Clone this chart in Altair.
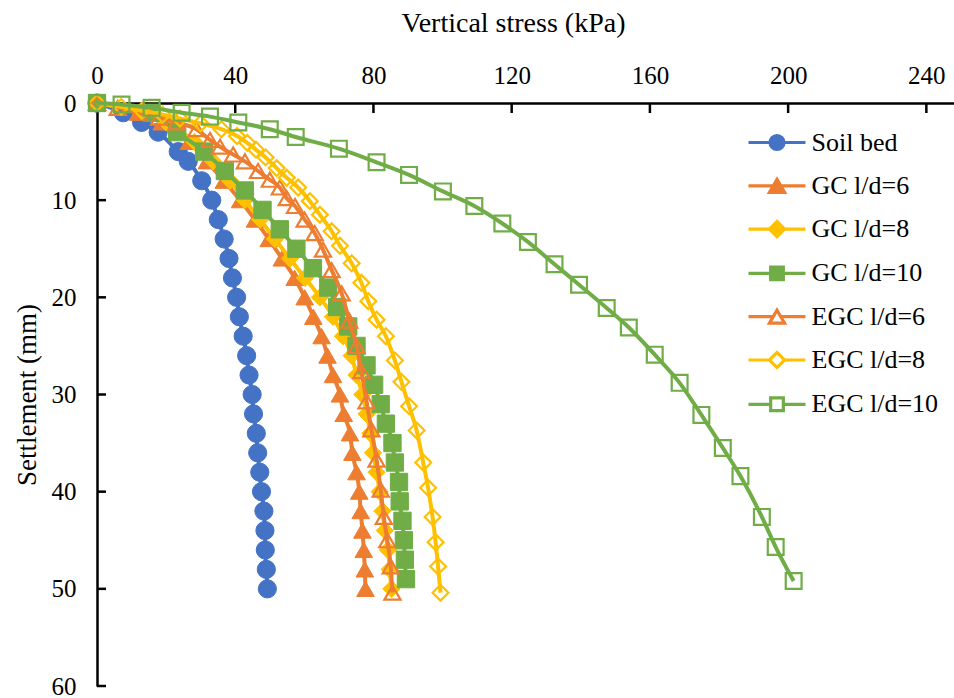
import altair as alt
import pandas as pd

# ---------------- data ----------------
series_names = ["Soil bed", "GC l/d=6", "GC l/d=8", "GC l/d=10",
                "EGC l/d=6", "EGC l/d=8", "EGC l/d=10"]

soil_mm = [0, 1, 2, 3, 5, 6, 8, 10, 12, 14, 16, 18, 20, 22, 24, 26, 28, 30,
           32, 34, 36, 38, 40, 42, 44, 46, 48, 50]
soil_kpa = [0, 7.6, 12.9, 17.7, 23.5, 26.4, 30.3, 33.2, 35.1, 36.8, 38.2, 39.2,
            40.4, 41.2, 42.3, 43.3, 44.0, 44.9, 45.3, 46.1, 46.5, 47.1, 47.6,
            48.3, 48.6, 48.7, 49.0, 49.3]

gc6_mm = [0, 1, 2, 4, 6, 8, 10, 12, 14, 16, 18, 20, 22, 24, 26, 28, 30, 32, 34,
          36, 38, 40, 42, 44, 46, 48, 50]
gc6_kpa = [0, 12.4, 18.7, 26.6, 31.8, 36.7, 41.4, 45.7, 49.7, 53.5, 57.2, 60.1,
           62.6, 65.0, 66.7, 68.3, 70.3, 71.4, 73.2, 73.9, 75.1, 75.9, 76.3,
           76.8, 77.2, 77.5, 77.7]

gc8_mm = [0, 1, 2, 4, 6, 8, 10, 12, 14, 16, 18, 20, 22, 24, 26, 28, 30, 32, 34,
          36, 38, 40, 42, 44, 46, 48, 50]
gc8_kpa = [0, 13.5, 20.0, 28.2, 33.6, 38.5, 42.8, 47.2, 51.5, 55.8, 60.2, 64.5,
           68.3, 71.2, 73.7, 75.1, 76.8, 78.0, 79.1, 79.9, 80.9, 81.8, 82.6,
           83.3, 84.2, 84.7, 85.2]

gc10_mm = [0, 1, 3, 5, 7, 9, 11, 13, 15, 17, 19, 21, 23, 25, 27, 29, 31, 33,
           35, 37, 39, 41, 43, 45, 47, 49]
gc10_kpa = [0, 15.8, 23.2, 31.0, 37.0, 42.8, 47.9, 52.9, 57.7, 62.5, 66.9, 69.5,
            72.7, 75.1, 78.0, 80.2, 82.1, 83.6, 85.5, 86.2, 87.4, 87.6, 88.4,
            88.8, 89.1, 89.4]

egc6_mm = [0, 0.5, 1.0, 1.5, 2.0, 2.7, 3.8, 4.5, 5.3, 6.0, 7.0, 7.9, 8.7, 9.8,
           10.6, 12.0, 13.4, 15.1, 17.2, 19.6, 22.4, 25.0, 27.6, 30.7, 33.6,
           36.7, 39.8, 42.6, 45.0, 47.7, 50.4]
egc6_kpa = [0, 6, 12, 18, 23, 28.8, 32.7, 35.6, 39.4, 42.8, 46.6, 50.0, 52.9,
            54.9, 57.3, 60.1, 63.0, 65.4, 67.9, 70.8, 73.0, 75.1, 76.5, 78.0,
            79.4, 80.9, 82.1, 83.0, 84.0, 85.0, 85.5]

egc8_mm = [0, 0.4, 0.8, 1.2, 1.6, 2.1, 2.7, 3.4, 4.1, 4.8, 5.6, 6.7, 7.7, 8.7,
           10.1, 11.5, 13.2, 14.7, 16.5, 18.5, 20.4, 22.3, 24.0, 26.5, 28.7,
           31.2, 33.7, 37.0, 39.6, 42.6, 45.2, 47.7, 50.4]
egc8_kpa = [0, 7, 13, 19, 24, 30, 36, 40.5, 43.5, 46, 48.8, 52, 54.9, 58.2, 61.6,
            64.5, 67.9, 70.3, 73.7, 76.5, 78.5, 80.9, 83.6, 86.2, 88.1, 90.3,
            92.5, 94.4, 95.8, 97.1, 98.0, 98.7, 99.4]

egc10_mm = [0, 0.15, 0.5, 1.0, 1.4, 2.0, 2.7, 3.5, 4.7, 6.1, 7.4, 9.1, 10.6,
            12.4, 14.3, 16.6, 18.7, 21.1, 23.1, 25.9, 28.8, 32.1, 35.5, 38.4,
            42.6, 45.7, 49.2]
egc10_kpa = [0, 7.1, 15.8, 24.5, 32.7, 40.9, 50.0, 57.5, 70.0, 80.9, 90.3,
             100.1, 109.2, 117.3, 124.7, 132.4, 139.5, 147.5, 153.9, 161.4,
             168.6, 174.9, 181.1, 186.2, 192.4, 196.4, 201.6]

x_ticks = [0, 40, 80, 120, 160, 200, 240]
y_ticks = [0, 10, 20, 30, 40, 50, 60]

all_mm = [soil_mm, gc6_mm, gc8_mm, gc10_mm, egc6_mm, egc8_mm, egc10_mm]
all_kpa = [soil_kpa, gc6_kpa, gc8_kpa, gc10_kpa, egc6_kpa, egc8_kpa, egc10_kpa]

# ---------------- styles ----------------
BLUE, ORANGE, YELLOW, GREEN = "#4472C4", "#ED7D31", "#FFC000", "#70AD47"
colors = [BLUE, ORANGE, YELLOW, GREEN, ORANGE, YELLOW, GREEN]
shapes = ["circle", "triangle-up", "diamond", "square",
          "triangle-up", "diamond", "square"]
filled = [True, True, True, True, False, False, False]
sizes = [330, 310, 300, 300, 260, 250, 250]
FONT = "Liberation Serif"

# legend symbol paths: a line with a marker in the middle (units of 13.5 px)
L = 2.111


def circle_path(r):
    k = 0.5523 * r
    return (f"M{-L},0H{-r} M{r},0H{L} "
            f"M{r},0 C{r},{k} {k},{r} 0,{r} C{-k},{r} {-r},{k} {-r},0 "
            f"C{-r},{-k} {-k},{-r} 0,{-r} C{k},{-r} {r},{-k} {r},0 Z")


def tri_path(a, h):
    e = a * 0.5
    return (f"M{-L},0H{-e} M{e},0H{L} "
            f"M0,{-h} L{a},{h} L{-a},{h} Z")


def dia_path(a):
    return (f"M{-L},0H{-a} M{a},0H{L} "
            f"M{-a},0 L0,{-a} L{a},0 L0,{a} Z")


def sq_path(a):
    return (f"M{-L},0H{-a} M{a},0H{L} "
            f"M{-a},{-a} H{a} V{a} H{-a} Z")


legend_paths = [circle_path(0.52), tri_path(0.56, 0.48), dia_path(0.56),
                sq_path(0.47), tri_path(0.56, 0.48), dia_path(0.56), sq_path(0.47)]
legend_fills = [c if f else "transparent" for c, f in zip(colors, filled)]

# ---------------- scales & axes ----------------
xs = alt.Scale(domain=[0, 248], nice=False, zero=False)
ys = alt.Scale(domain=[0, 60], reverse=True, nice=False, zero=False)

xaxis = alt.Axis(orient="top", values=x_ticks, ticks=False, tickSize=0,
                 grid=False, domainColor="black", domainWidth=2.5,
                 labelFont=FONT, labelFontSize=25, labelColor="black",
                 labelPadding=15, labelFlush=False, labelOverlap=False,
                 title="Vertical stress (kPa)", titleFont=FONT,
                 titleFontSize=28, titleFontWeight="normal",
                 titleColor="black", titleX=416, titleY=-72,
                 titleAlign="center", titleBaseline="alphabetic")
yaxis = alt.Axis(orient="left", values=y_ticks, ticks=False, tickSize=0,
                 grid=False, domainColor="black", domainWidth=2.5,
                 labelFont=FONT, labelFontSize=25, labelColor="black",
                 labelPadding=21, labelFlush=False, labelOverlap=False,
                 title="Settlement (mm)", titleFont=FONT, titleFontSize=27,
                 titleFontWeight="normal", titleColor="black",
                 titleX=-70, titleY=291.5, titleAngle=270,
                 titleAlign="center", titleBaseline="middle")

layers = []

# inward tick marks
xt = pd.DataFrame({"v": x_ticks})
yt = pd.DataFrame({"v": y_ticks})
layers.append(alt.Chart(xt).mark_rule(color="black", strokeWidth=2.5).encode(
    x=alt.X("v:Q", scale=xs, axis=xaxis), y=alt.value(0), y2=alt.value(10)))
layers.append(alt.Chart(yt).mark_rule(color="black", strokeWidth=2.5).encode(
    y=alt.Y("v:Q", scale=ys, axis=yaxis), x=alt.value(0), x2=alt.value(9)))

for i, name in enumerate(series_names):
    df = pd.DataFrame({"kPa": all_kpa[i], "mm": all_mm[i]})
    base = alt.Chart(df).encode(
        x=alt.X("kPa:Q", scale=xs, axis=xaxis),
        y=alt.Y("mm:Q", scale=ys, axis=yaxis),
    )
    layers.append(base.mark_line(color=colors[i], strokeWidth=4,
                                 interpolate="monotone").encode(order="mm:Q"))
    if filled[i]:
        pt = base.mark_point(shape=shapes[i], filled=True, fill=colors[i],
                             stroke=colors[i], strokeWidth=1, size=sizes[i],
                             opacity=1)
    else:
        pt = base.mark_point(shape=shapes[i], filled=False, stroke=colors[i],
                             strokeWidth=2.2, size=sizes[i], opacity=1)
    layers.append(pt)

# legend (drawn from scales; the layer itself is invisible)
leg = alt.Legend(title=None, orient="none", legendX=664.5, legendY=24,
                 direction="vertical", symbolSize=729, symbolStrokeWidth=3.2,
                 symbolOpacity=1, labelFont=FONT, labelFontSize=26,
                 labelColor="black", labelOffset=19, rowPadding=14.3,
                 padding=0, labelLimit=300)
leg_df = pd.DataFrame({"series": series_names})
layers.append(alt.Chart(leg_df).mark_point(opacity=0).encode(
    shape=alt.Shape("series:N", scale=alt.Scale(domain=series_names, range=legend_paths), legend=leg),
    fill=alt.Fill("series:N", scale=alt.Scale(domain=series_names, range=legend_fills), legend=leg),
    stroke=alt.Stroke("series:N", scale=alt.Scale(domain=series_names, range=colors), legend=leg),
))

chart = alt.layer(*layers).properties(
    width=857, height=583,
    padding={"left": 97, "top": 103, "right": 0, "bottom": 12},
    autosize=alt.AutoSizeParams(type="none"),
    background="white",
).configure_view(stroke=None)

chart.save("out.html", embed_options={"renderer": "svg", "actions": False})
